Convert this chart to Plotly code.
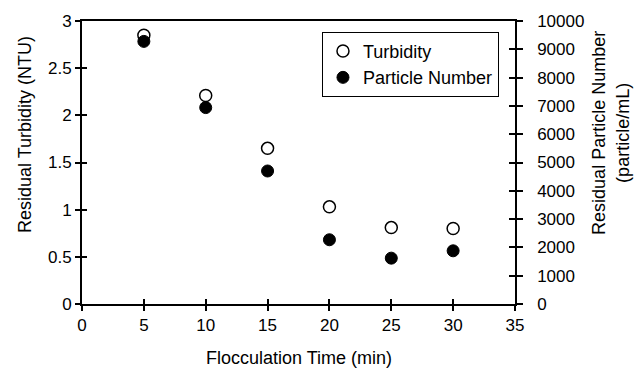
import plotly.graph_objects as go

time_min = [5, 10, 15, 20, 25, 30]
turbidity = [2.85, 2.21, 1.65, 1.03, 0.81, 0.80]
particles = [9280, 6940, 4700, 2270, 1620, 1880]

x_ticks = [0, 5, 10, 15, 20, 25, 30, 35]
y1_ticks = [0, 0.5, 1, 1.5, 2, 2.5, 3]
y1_labels = ["0", "0.5", "1", "1.5", "2", "2.5", "3"]
y2_ticks = list(range(0, 10001, 1000))
y2_labels = [str(v) for v in y2_ticks]

FONT = "Liberation Sans, Arial, sans-serif"

fig = go.Figure()
fig.add_trace(go.Scatter(
    x=time_min, y=turbidity, mode="markers", name="Turbidity",
    marker=dict(symbol="circle", size=12, color="white", line=dict(color="black", width=1.5)),
    xaxis="x", yaxis="y"))
fig.add_trace(go.Scatter(
    x=time_min, y=particles, mode="markers", name="Particle Number",
    marker=dict(symbol="circle", size=12, color="black", line=dict(color="black", width=1)),
    xaxis="x", yaxis="y2"))
# empty helper traces so the inside-tick overlay axes get drawn
fig.add_trace(go.Scatter(x=[None], y=[None], xaxis="x3", yaxis="y3", showlegend=False,
                         hoverinfo="skip", mode="markers"))
fig.add_trace(go.Scatter(x=[None], y=[None], xaxis="x3", yaxis="y4", showlegend=False,
                         hoverinfo="skip", mode="markers"))

tickfont = dict(family=FONT, size=17, color="black")
common = dict(showgrid=False, zeroline=False, tickfont=tickfont, tickcolor="black")
inside = dict(ticks="inside", tickwidth=1.5, showticklabels=False, showline=False,
              showgrid=False, zeroline=False, tickcolor="black", fixedrange=True)

fig.update_layout(
    width=640, height=368,
    margin=dict(l=82, r=125, t=18, b=64),
    paper_bgcolor="white", plot_bgcolor="white",
    font=dict(family=FONT, size=17, color="black"),
    xaxis=dict(range=[0, 35], tickvals=x_ticks, ticks="outside", ticklen=5, tickwidth=1.5,
               showline=True, linecolor="black", linewidth=2, mirror=True, **common),
    xaxis3=dict(range=[0, 35], overlaying="x", anchor="y", side="bottom", tickvals=x_ticks,
                ticklen=5, **inside),
    yaxis=dict(range=[0, 3], tickvals=y1_ticks, ticktext=y1_labels, ticks="outside", ticklen=5,
               tickwidth=1.5, showline=True, linecolor="black", linewidth=2, **common),
    yaxis3=dict(range=[0, 3], overlaying="y", anchor="x", side="left", tickvals=y1_ticks,
                ticklen=5, **inside),
    yaxis2=dict(range=[0, 10000], tickvals=y2_ticks, ticktext=y2_labels, overlaying="y",
                side="right", anchor="x", ticks="outside", ticklen=6, tickwidth=1.5,
                showline=True, linecolor="black", linewidth=1.5, ticklabelstandoff=11, **common),
    yaxis4=dict(range=[0, 10000], overlaying="y", side="right", anchor="x", tickvals=y2_ticks,
                ticklen=6, **inside),
    legend=dict(x=0.963, y=0.962, xanchor="right", yanchor="top",
                bordercolor="black", borderwidth=1, bgcolor="white",
                font=dict(family=FONT, size=18, color="black"),
                itemwidth=30, tracegroupgap=0),
    showlegend=True,
)

fig.add_annotation(text="Flocculation Time (min)", xref="paper", yref="paper",
                   x=0.5, y=-0.19, xanchor="center", yanchor="middle", showarrow=False,
                   font=dict(family=FONT, size=18, color="black"))
fig.add_annotation(text="Residual Turbidity (NTU)", xref="paper", yref="paper",
                   x=-0.132, y=0.6, xanchor="center", yanchor="middle", textangle=-90,
                   showarrow=False, font=dict(family=FONT, size=18, color="black"))
fig.add_annotation(text="Residual Particle Number<br>(particle/mL)", xref="paper", yref="paper",
                   x=1.222, y=0.605, xanchor="center", yanchor="middle", textangle=-90,
                   showarrow=False, font=dict(family=FONT, size=18, color="black"))

fig.write_html("out.html")
